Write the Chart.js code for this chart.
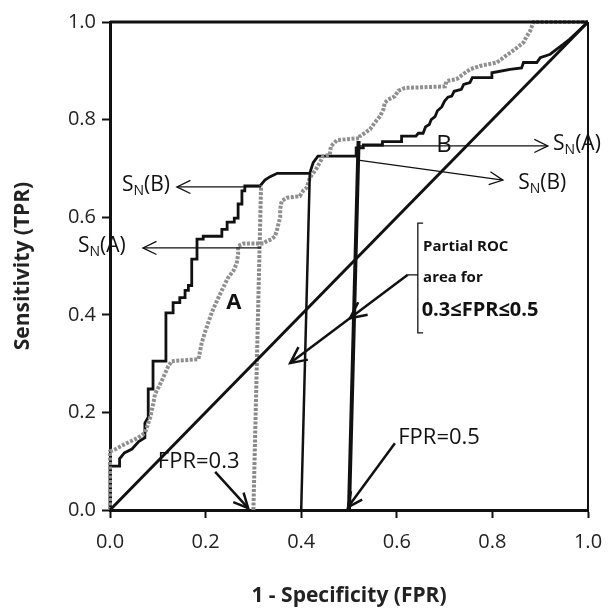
<!DOCTYPE html>
<html>
<head>
<meta charset="utf-8">
<script src="https://cdn.jsdelivr.net/npm/chart.js@4/dist/chart.umd.min.js"></script>
<style>
  body { margin: 0; background: #fff; overflow: hidden; }
  canvas { display: block; }
</style>
</head>
<body>
<canvas id="roc-chart" width="611" height="613"></canvas>
<script>
// ROC curve for test A (grey) and test B (black)
const curveAX = [0, 0, 0.01, 0.031, 0.059, 0.073, 0.084, 0.091, 0.094, 0.108, 0.122, 0.129, 0.185, 0.192, 0.199, 0.206, 0.213, 0.222, 0.23, 0.247, 0.258, 0.265, 0.268, 0.268, 0.279, 0.321, 0.328, 0.338, 0.345, 0.349, 0.352, 0.356, 0.356, 0.359, 0.37, 0.397, 0.404, 0.411, 0.415, 0.418, 0.425, 0.432, 0.439, 0.446, 0.46, 0.462, 0.475, 0.523, 0.523, 0.544, 0.554, 0.565, 0.572, 0.575, 0.582, 0.596, 0.603, 0.617, 0.701, 0.704, 0.725, 0.743, 0.753, 0.774, 0.809, 0.823, 0.837, 0.851, 0.865, 0.872, 0.879, 0.886, 1];
const curveAY = [0, 0.12, 0.124, 0.135, 0.148, 0.158, 0.189, 0.22, 0.237, 0.264, 0.295, 0.305, 0.309, 0.343, 0.365, 0.385, 0.405, 0.425, 0.442, 0.476, 0.49, 0.505, 0.524, 0.541, 0.546, 0.546, 0.551, 0.555, 0.561, 0.572, 0.585, 0.6, 0.616, 0.633, 0.64, 0.643, 0.654, 0.66, 0.671, 0.681, 0.69, 0.7, 0.712, 0.725, 0.728, 0.745, 0.758, 0.762, 0.766, 0.78, 0.794, 0.807, 0.821, 0.835, 0.841, 0.848, 0.859, 0.865, 0.868, 0.879, 0.883, 0.896, 0.903, 0.91, 0.917, 0.927, 0.937, 0.947, 0.958, 0.971, 0.982, 1, 1];

const curveBX = [0, 0, 0.02, 0.02, 0.03, 0.046, 0.06, 0.073, 0.073, 0.08, 0.08, 0.09, 0.09, 0.117, 0.117, 0.132, 0.132, 0.146, 0.146, 0.157, 0.157, 0.164, 0.164, 0.171, 0.171, 0.182, 0.182, 0.195, 0.195, 0.234, 0.234, 0.245, 0.245, 0.26, 0.26, 0.268, 0.268, 0.276, 0.276, 0.282, 0.282, 0.314, 0.324, 0.335, 0.35, 0.418, 0.425, 0.435, 0.515, 0.515, 0.53, 0.53, 0.57, 0.57, 0.61, 0.61, 0.64, 0.645, 0.655, 0.66, 0.668, 0.672, 0.68, 0.685, 0.694, 0.7, 0.707, 0.715, 0.72, 0.735, 0.74, 0.753, 0.758, 0.799, 0.799, 0.837, 0.861, 0.865, 0.893, 0.9, 0.921, 0.934, 0.948, 0.962, 0.976, 1];
const curveBY = [0, 0.09, 0.09, 0.105, 0.117, 0.125, 0.14, 0.148, 0.178, 0.19, 0.248, 0.248, 0.305, 0.305, 0.404, 0.404, 0.425, 0.425, 0.435, 0.435, 0.45, 0.45, 0.46, 0.46, 0.514, 0.514, 0.555, 0.555, 0.561, 0.561, 0.575, 0.575, 0.59, 0.59, 0.598, 0.598, 0.627, 0.627, 0.654, 0.654, 0.664, 0.664, 0.676, 0.683, 0.69, 0.69, 0.712, 0.725, 0.725, 0.742, 0.742, 0.748, 0.748, 0.755, 0.755, 0.766, 0.766, 0.772, 0.772, 0.785, 0.79, 0.8, 0.806, 0.818, 0.826, 0.838, 0.846, 0.848, 0.858, 0.862, 0.872, 0.876, 0.886, 0.886, 0.896, 0.903, 0.906, 0.917, 0.917, 0.927, 0.934, 0.944, 0.954, 0.965, 0.978, 1];

// chance line
const diagX = [0, 1];
const diagY = [0, 1];

// FPR cut-off lines: start on the axis, end on the curve
const cut03X = [0.30, 0.316];
const cut03Y = [0, 0.665];
const cut04X = [0.40, 0.418];
const cut04Y = [0, 0.69];
const cut05X = [0.50, 0.52];
const cut05Y = [0, 0.756];

const xTicks = [0, 0.2, 0.4, 0.6, 0.8, 1.0];
const yTicks = [0, 0.2, 0.4, 0.6, 0.8, 1.0];

const FONT = "'Open Sans', Lato, sans-serif";

function toPoints(xs, ys) {
  return xs.map((x, i) => ({ x: x, y: ys[i] }));
}

function lineSet(xs, ys, color, width, dash) {
  return {
    data: toPoints(xs, ys),
    showLine: true,
    borderColor: color,
    borderWidth: width,
    borderDash: dash || [],
    pointRadius: 0,
    fill: false,
    clip: 6,
  };
}

// open "V" arrow head at (x2,y2) pointing away from (x1,y1)
function arrowHead(ctx, x1, y1, x2, y2, len, spread) {
  let a = Math.atan2(y2 - y1, x2 - x1);
  ctx.beginPath();
  ctx.moveTo(x2 - len * Math.cos(a - spread), y2 - len * Math.sin(a - spread));
  ctx.lineTo(x2, y2);
  ctx.lineTo(x2 - len * Math.cos(a + spread), y2 - len * Math.sin(a + spread));
  ctx.stroke();
}

function arrow(ctx, x1, y1, x2, y2, width, len) {
  ctx.lineWidth = width;
  ctx.beginPath();
  ctx.moveTo(x1, y1);
  ctx.lineTo(x2, y2);
  ctx.stroke();
  arrowHead(ctx, x1, y1, x2, y2, len, 0.45);
}

// "S" with subscript N followed by "(A)" / "(B)"
function drawSN(ctx, x, y, letter) {
  ctx.textAlign = 'left';
  ctx.textBaseline = 'middle';
  ctx.font = '21px ' + FONT;
  ctx.fillText('S', x, y);
  let w = ctx.measureText('S').width;
  ctx.font = '14px ' + FONT;
  ctx.fillText('N', x + w, y + 6);
  let w2 = ctx.measureText('N').width;
  ctx.font = '21px ' + FONT;
  ctx.fillText('(' + letter + ')', x + w + w2, y);
}

const annotations = {
  id: 'annotations',
  afterDatasetsDraw(chart) {
    const ctx = chart.ctx;
    const xs = chart.scales.x;
    const ys = chart.scales.y;
    const px = v => xs.getPixelForValue(v);
    const py = v => ys.getPixelForValue(v);
    const area = chart.chartArea;

    ctx.save();
    ctx.strokeStyle = '#111';
    ctx.fillStyle = '#111';
    ctx.lineCap = 'butt';

    // frame top and right
    ctx.lineWidth = 3;
    ctx.beginPath();
    ctx.moveTo(area.left, area.top);
    ctx.lineTo(area.right, area.top);
    ctx.stroke();
    ctx.lineWidth = 2;
    ctx.beginPath();
    ctx.moveTo(area.right, area.top);
    ctx.lineTo(area.right, area.bottom);
    ctx.stroke();

    // sensitivity read-offs
    arrow(ctx, px(0.316), py(0.662), px(0.14), py(0.662), 1.3, 15);
    drawSN(ctx, px(0.025), py(0.666), 'B');
    arrow(ctx, px(0.316), py(0.537), px(0.069), py(0.537), 1.3, 15);
    drawSN(ctx, px(-0.067), py(0.541), 'A');
    arrow(ctx, px(0.518), py(0.746), px(0.916), py(0.746), 1.3, 15);
    drawSN(ctx, px(0.927), py(0.75), 'A');
    arrow(ctx, px(0.519), py(0.717), px(0.822), py(0.676), 1.3, 15);
    drawSN(ctx, px(0.854), py(0.67), 'B');

    // curve names
    ctx.textAlign = 'center';
    ctx.textBaseline = 'middle';
    ctx.font = '24px ' + FONT;
    ctx.fillText('B', px(0.699), py(0.748));
    ctx.font = 'bold 22px ' + FONT;
    ctx.fillText('A', px(0.259), py(0.424));

    // bracket for the partial area note
    ctx.lineWidth = 1.3;
    ctx.beginPath();
    ctx.moveTo(px(0.655), py(0.588));
    ctx.lineTo(px(0.644), py(0.588));
    ctx.lineTo(px(0.644), py(0.363));
    ctx.lineTo(px(0.655), py(0.363));
    ctx.moveTo(px(0.644), py(0.482));
    ctx.lineTo(px(0.623), py(0.482));
    ctx.stroke();

    ctx.textAlign = 'left';
    ctx.font = 'bold 15px ' + FONT;
    ctx.fillText('Partial ROC', px(0.655), py(0.539));
    ctx.fillText('area for', px(0.655), py(0.475));
    ctx.font = 'bold 20px ' + FONT;
    ctx.fillText('0.3\u2264FPR\u22640.5', px(0.652), py(0.41));

    // one line from the bracket, heads at the 0.5 cut-off and inside the area
    arrow(ctx, px(0.623), py(0.482), px(0.377), py(0.301), 2.5, 18);
    arrowHead(ctx, px(0.623), py(0.482), px(0.502), py(0.393), 18, 0.45);

    // FPR labels
    ctx.font = '22px ' + FONT;
    ctx.fillText('FPR=0.3', px(0.1), py(0.098));
    arrow(ctx, px(0.22), py(0.078), px(0.289), py(0.004), 2.5, 16);
    ctx.fillText('FPR=0.5', px(0.603), py(0.148));
    arrow(ctx, px(0.596), py(0.137), px(0.498), py(0.006), 2.5, 16);

    ctx.restore();
  }
};

function axisOptions(title, ticks, isX) {
  return {
    type: 'linear',
    min: 0,
    max: 1,
    afterBuildTicks: scale => { scale.ticks = ticks.map(v => ({ value: v })); },
    afterFit: scale => {
      // fixed axis band, and no extra room asked for the end labels
      if (isX) scale.height = 103;
      else scale.width = 110;
      scale.paddingLeft = 0;
      scale.paddingRight = 0;
      scale.paddingTop = 0;
      scale.paddingBottom = 0;
    },
    ticks: {
      color: '#222',
      font: { family: FONT, size: 20 },
      padding: isX ? 12 : 6,
      callback: v => v.toFixed(1),
    },
    grid: {
      drawOnChartArea: false,
      drawTicks: true,
      tickLength: 8,
      tickWidth: 2,
      tickColor: '#111',
    },
    border: { color: '#111', width: 3 },
    title: {
      display: true,
      text: title,
      color: '#222',
      font: { family: FONT, size: 21, weight: 'bold' },
      padding: isX ? { top: 0, bottom: 4 } : { top: 10, bottom: 0 },
    },
  };
}

const config = {
  type: 'scatter',
  data: {
    datasets: [
      lineSet(diagX, diagY, '#111', 3),
      lineSet(cut03X, cut03Y, '#8a8a8a', 4, [3, 1.5]),
      lineSet(cut04X, cut04Y, '#111', 2.5),
      lineSet(cut05X, cut05Y, '#111', 4),
      lineSet(curveAX, curveAY, '#8f8f8f', 4, [3, 1.5]),
      lineSet(curveBX, curveBY, '#111', 2.8),
    ],
  },
  options: {
    responsive: false,
    animation: false,
    layout: { padding: { top: 22, right: 23, left: 0, bottom: 0 } },
    plugins: {
      legend: { display: false },
      tooltip: { enabled: false },
    },
    scales: {
      x: axisOptions('1 - Specificity (FPR)', xTicks, true),
      y: axisOptions('Sensitivity (TPR)', yTicks, false),
    },
  },
  plugins: [annotations],
};

const rocChart = new Chart(document.getElementById('roc-chart'), config);
</script>
</body>
</html>
